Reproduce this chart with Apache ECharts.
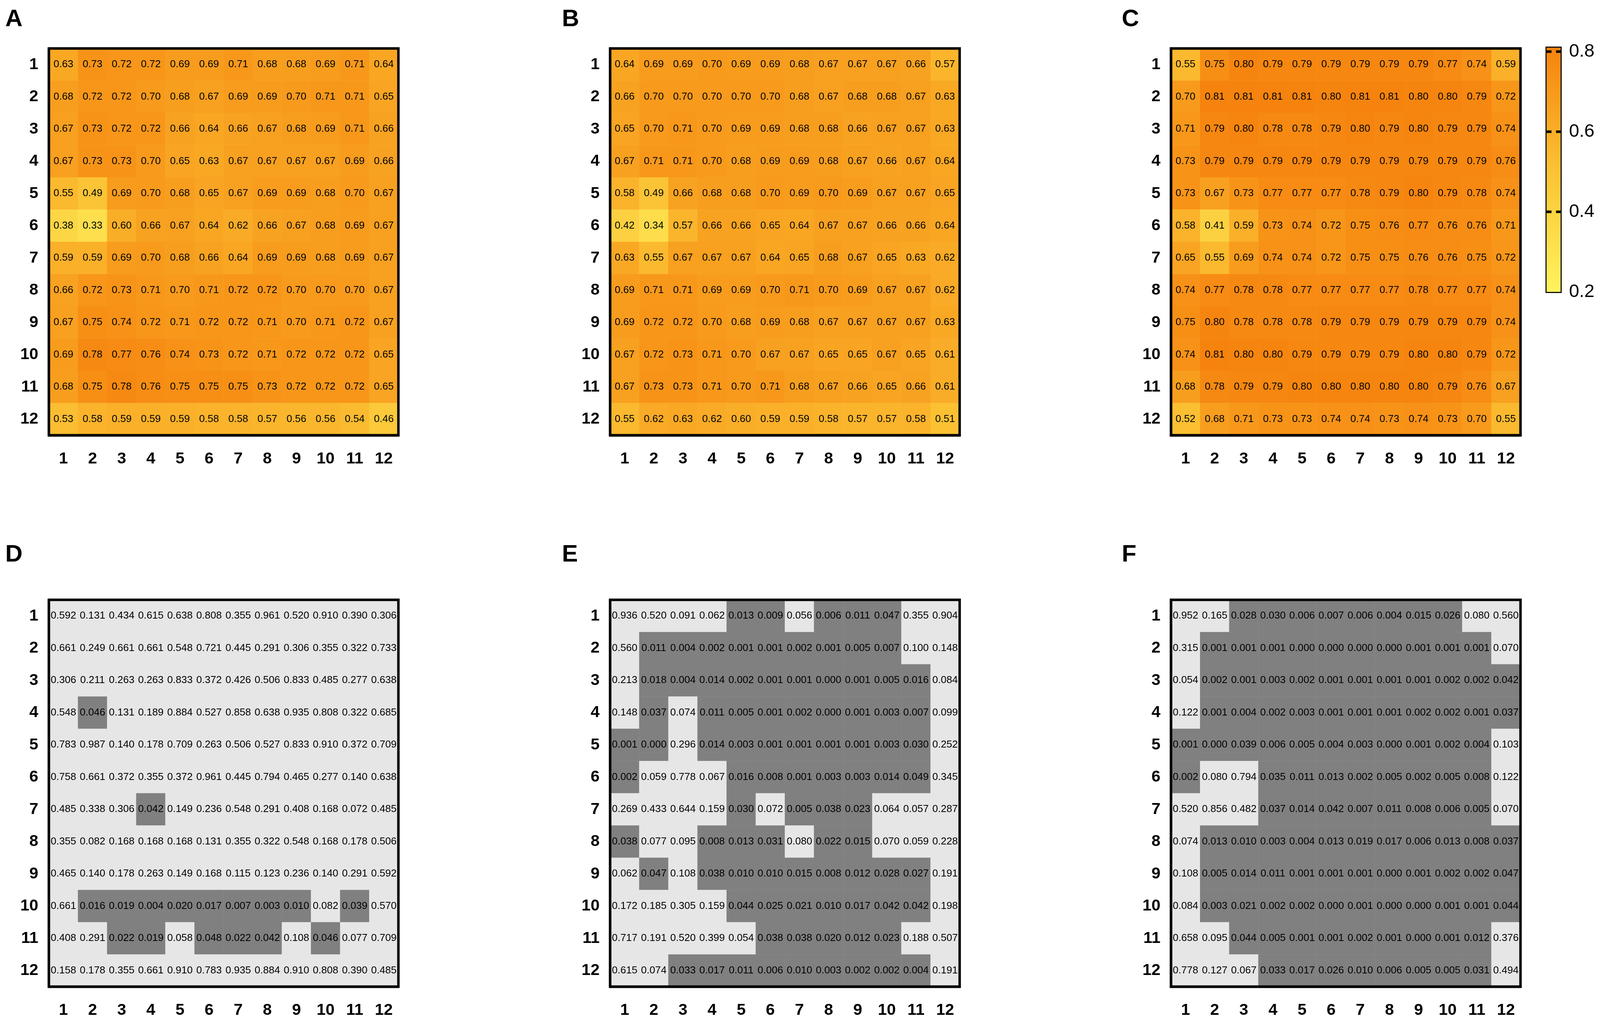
<!DOCTYPE html>
<html>
<head>
<meta charset="utf-8">
<title>Heatmaps A-F</title>
<script src="https://cdn.jsdelivr.net/npm/echarts@6/dist/echarts.min.js"></script>
<style>
  html, body { margin: 0; padding: 0; background: #fff; overflow: hidden; }
  #chart { width: 100vw; height: 100vh; }
</style>
</head>
<body>
<div id="chart"></div>
<script>
// axis categories (row / column numbers)
const xCats = ['1', '2', '3', '4', '5', '6', '7', '8', '9', '10', '11', '12']
const yCats = ['1', '2', '3', '4', '5', '6', '7', '8', '9', '10', '11', '12']
const panelLetters = ['A', 'B', 'C', 'D', 'E', 'F']

// panel A
const valuesA = [
  [0.63, 0.73, 0.72, 0.72, 0.69, 0.69, 0.71, 0.68, 0.68, 0.69, 0.71, 0.64],
  [0.68, 0.72, 0.72, 0.70, 0.68, 0.67, 0.69, 0.69, 0.70, 0.71, 0.71, 0.65],
  [0.67, 0.73, 0.72, 0.72, 0.66, 0.64, 0.66, 0.67, 0.68, 0.69, 0.71, 0.66],
  [0.67, 0.73, 0.73, 0.70, 0.65, 0.63, 0.67, 0.67, 0.67, 0.67, 0.69, 0.66],
  [0.55, 0.49, 0.69, 0.70, 0.68, 0.65, 0.67, 0.69, 0.69, 0.68, 0.70, 0.67],
  [0.38, 0.33, 0.60, 0.66, 0.67, 0.64, 0.62, 0.66, 0.67, 0.68, 0.69, 0.67],
  [0.59, 0.59, 0.69, 0.70, 0.68, 0.66, 0.64, 0.69, 0.69, 0.68, 0.69, 0.67],
  [0.66, 0.72, 0.73, 0.71, 0.70, 0.71, 0.72, 0.72, 0.70, 0.70, 0.70, 0.67],
  [0.67, 0.75, 0.74, 0.72, 0.71, 0.72, 0.72, 0.71, 0.70, 0.71, 0.72, 0.67],
  [0.69, 0.78, 0.77, 0.76, 0.74, 0.73, 0.72, 0.71, 0.72, 0.72, 0.72, 0.65],
  [0.68, 0.75, 0.78, 0.76, 0.75, 0.75, 0.75, 0.73, 0.72, 0.72, 0.72, 0.65],
  [0.53, 0.58, 0.59, 0.59, 0.59, 0.58, 0.58, 0.57, 0.56, 0.56, 0.54, 0.46]
]

// panel B
const valuesB = [
  [0.64, 0.69, 0.69, 0.70, 0.69, 0.69, 0.68, 0.67, 0.67, 0.67, 0.66, 0.57],
  [0.66, 0.70, 0.70, 0.70, 0.70, 0.70, 0.68, 0.67, 0.68, 0.68, 0.67, 0.63],
  [0.65, 0.70, 0.71, 0.70, 0.69, 0.69, 0.68, 0.68, 0.66, 0.67, 0.67, 0.63],
  [0.67, 0.71, 0.71, 0.70, 0.68, 0.69, 0.69, 0.68, 0.67, 0.66, 0.67, 0.64],
  [0.58, 0.49, 0.66, 0.68, 0.68, 0.70, 0.69, 0.70, 0.69, 0.67, 0.67, 0.65],
  [0.42, 0.34, 0.57, 0.66, 0.66, 0.65, 0.64, 0.67, 0.67, 0.66, 0.66, 0.64],
  [0.63, 0.55, 0.67, 0.67, 0.67, 0.64, 0.65, 0.68, 0.67, 0.65, 0.63, 0.62],
  [0.69, 0.71, 0.71, 0.69, 0.69, 0.70, 0.71, 0.70, 0.69, 0.67, 0.67, 0.62],
  [0.69, 0.72, 0.72, 0.70, 0.68, 0.69, 0.68, 0.67, 0.67, 0.67, 0.67, 0.63],
  [0.67, 0.72, 0.73, 0.71, 0.70, 0.67, 0.67, 0.65, 0.65, 0.67, 0.65, 0.61],
  [0.67, 0.73, 0.73, 0.71, 0.70, 0.71, 0.68, 0.67, 0.66, 0.65, 0.66, 0.61],
  [0.55, 0.62, 0.63, 0.62, 0.60, 0.59, 0.59, 0.58, 0.57, 0.57, 0.58, 0.51]
]

// panel C
const valuesC = [
  [0.55, 0.75, 0.80, 0.79, 0.79, 0.79, 0.79, 0.79, 0.79, 0.77, 0.74, 0.59],
  [0.70, 0.81, 0.81, 0.81, 0.81, 0.80, 0.81, 0.81, 0.80, 0.80, 0.79, 0.72],
  [0.71, 0.79, 0.80, 0.78, 0.78, 0.79, 0.80, 0.79, 0.80, 0.79, 0.79, 0.74],
  [0.73, 0.79, 0.79, 0.79, 0.79, 0.79, 0.79, 0.79, 0.79, 0.79, 0.79, 0.76],
  [0.73, 0.67, 0.73, 0.77, 0.77, 0.77, 0.78, 0.79, 0.80, 0.79, 0.78, 0.74],
  [0.58, 0.41, 0.59, 0.73, 0.74, 0.72, 0.75, 0.76, 0.77, 0.76, 0.76, 0.71],
  [0.65, 0.55, 0.69, 0.74, 0.74, 0.72, 0.75, 0.75, 0.76, 0.76, 0.75, 0.72],
  [0.74, 0.77, 0.78, 0.78, 0.77, 0.77, 0.77, 0.77, 0.78, 0.77, 0.77, 0.74],
  [0.75, 0.80, 0.78, 0.78, 0.78, 0.79, 0.79, 0.79, 0.79, 0.79, 0.79, 0.74],
  [0.74, 0.81, 0.80, 0.80, 0.79, 0.79, 0.79, 0.79, 0.80, 0.80, 0.79, 0.72],
  [0.68, 0.78, 0.79, 0.79, 0.80, 0.80, 0.80, 0.80, 0.80, 0.79, 0.76, 0.67],
  [0.52, 0.68, 0.71, 0.73, 0.73, 0.74, 0.74, 0.73, 0.74, 0.73, 0.70, 0.55]
]

// panel D (p values)
const pValuesD = [
  [0.592, 0.131, 0.434, 0.615, 0.638, 0.808, 0.355, 0.961, 0.520, 0.910, 0.390, 0.306],
  [0.661, 0.249, 0.661, 0.661, 0.548, 0.721, 0.445, 0.291, 0.306, 0.355, 0.322, 0.733],
  [0.306, 0.211, 0.263, 0.263, 0.833, 0.372, 0.426, 0.506, 0.833, 0.485, 0.277, 0.638],
  [0.548, 0.046, 0.131, 0.189, 0.884, 0.527, 0.858, 0.638, 0.935, 0.808, 0.322, 0.685],
  [0.783, 0.987, 0.140, 0.178, 0.709, 0.263, 0.506, 0.527, 0.833, 0.910, 0.372, 0.709],
  [0.758, 0.661, 0.372, 0.355, 0.372, 0.961, 0.445, 0.794, 0.465, 0.277, 0.140, 0.638],
  [0.485, 0.338, 0.306, 0.042, 0.149, 0.236, 0.548, 0.291, 0.408, 0.168, 0.072, 0.485],
  [0.355, 0.082, 0.168, 0.168, 0.168, 0.131, 0.355, 0.322, 0.548, 0.168, 0.178, 0.506],
  [0.465, 0.140, 0.178, 0.263, 0.149, 0.168, 0.115, 0.123, 0.236, 0.140, 0.291, 0.592],
  [0.661, 0.016, 0.019, 0.004, 0.020, 0.017, 0.007, 0.003, 0.010, 0.082, 0.039, 0.570],
  [0.408, 0.291, 0.022, 0.019, 0.058, 0.048, 0.022, 0.042, 0.108, 0.046, 0.077, 0.709],
  [0.158, 0.178, 0.355, 0.661, 0.910, 0.783, 0.935, 0.884, 0.910, 0.808, 0.390, 0.485]
]

// panel E (p values)
const pValuesE = [
  [0.936, 0.520, 0.091, 0.062, 0.013, 0.009, 0.056, 0.006, 0.011, 0.047, 0.355, 0.904],
  [0.560, 0.011, 0.004, 0.002, 0.001, 0.001, 0.002, 0.001, 0.005, 0.007, 0.100, 0.148],
  [0.213, 0.018, 0.004, 0.014, 0.002, 0.001, 0.001, 0.000, 0.001, 0.005, 0.016, 0.084],
  [0.148, 0.037, 0.074, 0.011, 0.005, 0.001, 0.002, 0.000, 0.001, 0.003, 0.007, 0.099],
  [0.001, 0.000, 0.296, 0.014, 0.003, 0.001, 0.001, 0.001, 0.001, 0.003, 0.030, 0.252],
  [0.002, 0.059, 0.778, 0.067, 0.016, 0.008, 0.001, 0.003, 0.003, 0.014, 0.049, 0.345],
  [0.269, 0.433, 0.644, 0.159, 0.030, 0.072, 0.005, 0.038, 0.023, 0.064, 0.057, 0.287],
  [0.038, 0.077, 0.095, 0.008, 0.013, 0.031, 0.080, 0.022, 0.015, 0.070, 0.059, 0.228],
  [0.062, 0.047, 0.108, 0.038, 0.010, 0.010, 0.015, 0.008, 0.012, 0.028, 0.027, 0.191],
  [0.172, 0.185, 0.305, 0.159, 0.044, 0.025, 0.021, 0.010, 0.017, 0.042, 0.042, 0.198],
  [0.717, 0.191, 0.520, 0.399, 0.054, 0.038, 0.038, 0.020, 0.012, 0.023, 0.188, 0.507],
  [0.615, 0.074, 0.033, 0.017, 0.011, 0.006, 0.010, 0.003, 0.002, 0.002, 0.004, 0.191]
]

// panel F (p values)
const pValuesF = [
  [0.952, 0.165, 0.028, 0.030, 0.006, 0.007, 0.006, 0.004, 0.015, 0.026, 0.080, 0.560],
  [0.315, 0.001, 0.001, 0.001, 0.000, 0.000, 0.000, 0.000, 0.001, 0.001, 0.001, 0.070],
  [0.054, 0.002, 0.001, 0.003, 0.002, 0.001, 0.001, 0.001, 0.001, 0.002, 0.002, 0.042],
  [0.122, 0.001, 0.004, 0.002, 0.003, 0.001, 0.001, 0.001, 0.002, 0.002, 0.001, 0.037],
  [0.001, 0.000, 0.039, 0.006, 0.005, 0.004, 0.003, 0.000, 0.001, 0.002, 0.004, 0.103],
  [0.002, 0.080, 0.794, 0.035, 0.011, 0.013, 0.002, 0.005, 0.002, 0.005, 0.008, 0.122],
  [0.520, 0.856, 0.482, 0.037, 0.014, 0.042, 0.007, 0.011, 0.008, 0.006, 0.005, 0.070],
  [0.074, 0.013, 0.010, 0.003, 0.004, 0.013, 0.019, 0.017, 0.006, 0.013, 0.008, 0.037],
  [0.108, 0.005, 0.014, 0.011, 0.001, 0.001, 0.001, 0.000, 0.001, 0.002, 0.002, 0.047],
  [0.084, 0.003, 0.021, 0.002, 0.002, 0.000, 0.001, 0.000, 0.000, 0.001, 0.001, 0.044],
  [0.658, 0.095, 0.044, 0.005, 0.001, 0.001, 0.002, 0.001, 0.000, 0.001, 0.012, 0.376],
  [0.778, 0.127, 0.067, 0.033, 0.017, 0.026, 0.010, 0.006, 0.005, 0.005, 0.031, 0.494]
]

// colour scale
const colorbarRange = [0.2, 0.81]
const colorbarTicks = [0.4, 0.6, 0.8]
const pThreshold = 0.05

const corrColors = ['#FFF35E', '#FBC234', '#F6830E']
const sigColor = '#808080'
const nsColor = '#E6E6E6'
const fontFamily = "'Liberation Sans', Arial, sans-serif"

const panels = [
  { values: valuesA, digits: 2 },
  { values: valuesB, digits: 2 },
  { values: valuesC, digits: 2 },
  { values: pValuesD, digits: 3 },
  { values: pValuesE, digits: 3 },
  { values: pValuesF, digits: 3 }
]

const el = document.getElementById('chart')
// layout is written for a 4550 x 2623 frame and stretched to the real viewport
const sx = el.clientWidth / 4550
const sy = el.clientHeight / 2623
const px = (v) => Math.round(v * sx * 10) / 10
const py = (v) => Math.round(v * sy * 10) / 10

const colLefts = [139, 1735, 3330]
const rowTops = [124, 1535]
const gridW = 994
const gridH = 990

const toCells = (m) => {
  const out = []
  m.forEach((row, i) => row.forEach((v, j) => out.push([j, i, v])))
  return out
}

const chart = echarts.init(el, null, { renderer: 'canvas' })

const grids = []
const xAxes = []
const yAxes = []
const series = []
const titles = []

panels.forEach((p, k) => {
  const left = colLefts[k % 3]
  const top = rowTops[Math.floor(k / 3)]
  grids.push({ left: px(left), top: py(top), width: px(gridW), height: py(gridH), show: true, borderColor: '#000', borderWidth: px(7) })
  xAxes.push({
    gridIndex: k,
    type: 'category',
    data: xCats,
    axisLine: { lineStyle: { color: '#000', width: px(7) } },
    axisTick: { alignWithLabel: true, length: py(30), lineStyle: { color: '#000', width: px(7) } },
    axisLabel: { color: '#000', fontSize: px(46), fontWeight: 'bold', fontFamily, margin: py(40) },
    splitLine: { show: false },
    splitArea: { show: false }
  })
  yAxes.push({
    gridIndex: k,
    type: 'category',
    data: yCats,
    inverse: true,
    axisLine: { lineStyle: { color: '#000', width: px(7) } },
    axisTick: { alignWithLabel: true, length: px(26), lineStyle: { color: '#000', width: px(7) } },
    axisLabel: { color: '#000', fontSize: px(46), fontWeight: 'bold', fontFamily, margin: px(30) },
    splitLine: { show: false },
    splitArea: { show: false }
  })
  series.push({
    type: 'heatmap',
    xAxisIndex: k,
    yAxisIndex: k,
    z: -1,
    data: toCells(p.values),
    itemStyle: { borderWidth: 0 },
    emphasis: { disabled: true },
    label: {
      show: true,
      color: '#000',
      fontSize: px(29),
      fontFamily,
      formatter: (d) => d.value[2].toFixed(p.digits)
    }
  })
  titles.push({
    text: panelLetters[k],
    left: px([15, 1598, 3190][k % 3]),
    top: py([20, 1390][Math.floor(k / 3)]),
    padding: 0,
    textStyle: { color: '#000', fontSize: px(68), fontWeight: 'bold', fontFamily }
  })
})

// colour bar
const cb = panels.length
grids.push({ left: px(4398), top: py(122), width: px(40), height: py(625), show: true, borderColor: '#000', borderWidth: px(6) })
xAxes.push({ gridIndex: cb, type: 'category', data: [''], show: false })
yAxes.push({
  gridIndex: cb,
  type: 'value',
  position: 'right',
  min: colorbarRange[0],
  max: colorbarRange[1],
  interval: 0.2,
  axisLine: { show: false },
  axisTick: { show: false },
  splitLine: { show: false },
  axisLabel: {
    color: '#000',
    fontSize: px(52),
    fontFamily,
    margin: px(24),
    formatter: (v) => (Math.abs(v * 5 - Math.round(v * 5)) < 1e-6 ? v.toFixed(1) : '')
  }
})
series.push({
  type: 'bar',
  xAxisIndex: cb,
  yAxisIndex: cb,
  stack: 'cb',
  silent: true,
  barWidth: '100%',
  data: [colorbarRange[0]],
  itemStyle: { color: 'transparent' }
})
series.push({
  type: 'bar',
  xAxisIndex: cb,
  yAxisIndex: cb,
  stack: 'cb',
  silent: true,
  barWidth: '100%',
  data: [colorbarRange[1] - colorbarRange[0]],
  itemStyle: {
    color: new echarts.graphic.LinearGradient(0, 0, 0, 1, [
      { offset: 0, color: corrColors[2] },
      { offset: 0.5, color: corrColors[1] },
      { offset: 1, color: corrColors[0] }
    ])
  },
  markLine: {
    silent: true,
    symbol: 'none',
    label: { show: false },
    lineStyle: { color: '#000', width: px(7), type: [px(14), px(13)] },
    data: colorbarTicks.map((v) => ({ yAxis: v }))
  }
})

chart.setOption({
  animation: false,
  backgroundColor: '#fff',
  title: titles,
  grid: grids,
  xAxis: xAxes,
  yAxis: yAxes,
  visualMap: [
    {
      type: 'continuous',
      show: false,
      seriesIndex: [0, 1, 2],
      dimension: 2,
      min: colorbarRange[0],
      max: colorbarRange[1],
      inRange: { color: corrColors }
    },
    {
      type: 'piecewise',
      show: false,
      seriesIndex: [3, 4, 5],
      dimension: 2,
      pieces: [
        { lt: pThreshold, color: sigColor },
        { gte: pThreshold, color: nsColor }
      ]
    }
  ],
  series
})
</script>
</body>
</html>
